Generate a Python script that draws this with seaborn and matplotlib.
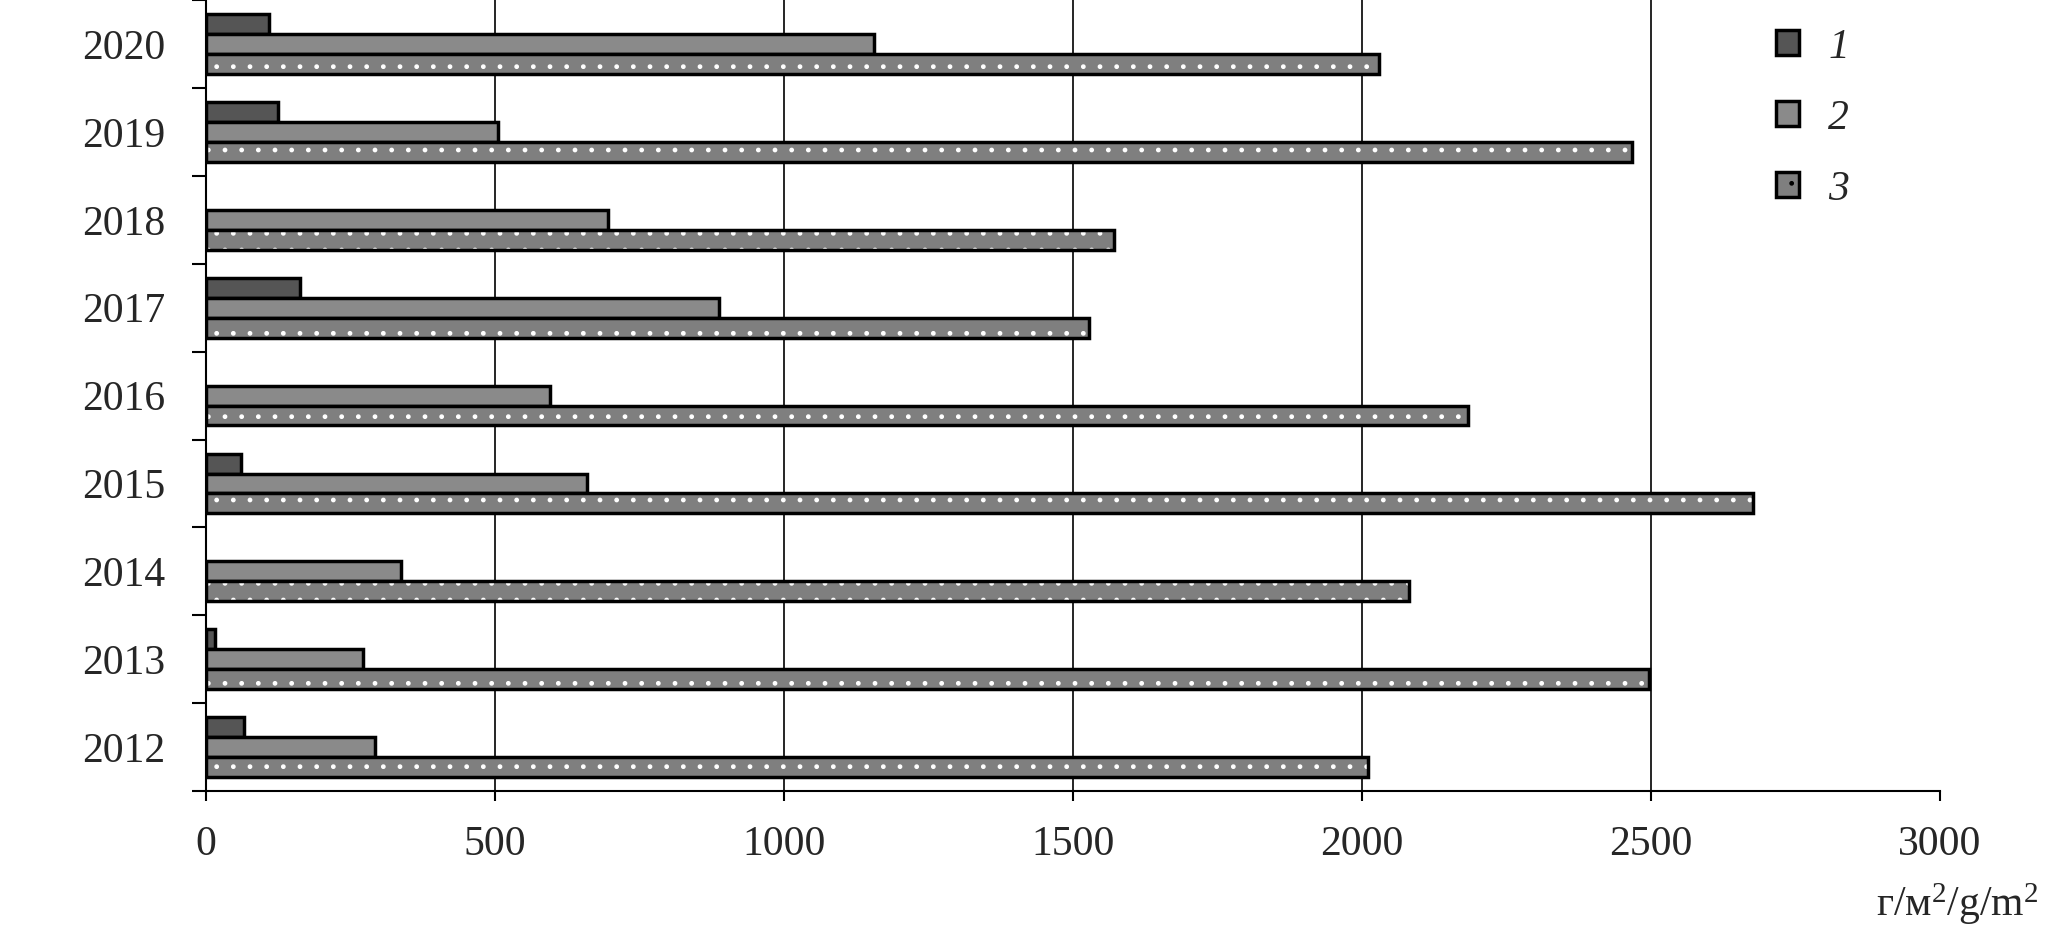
import matplotlib
matplotlib.use("Agg")
import matplotlib.pyplot as plt
import numpy as np
import pandas as pd
import seaborn as sns
from matplotlib.patches import Patch, Rectangle
from matplotlib.ticker import FixedLocator

years = ["2020", "2019", "2018", "2017", "2016", "2015", "2014", "2013", "2012"]
series_1 = [109, 125, 0, 163, 0, 61, 0, 16, 66]
series_2 = [1156, 506, 696, 887, 596, 660, 338, 272, 293]
series_3 = [2030, 2467, 1571, 1528, 2184, 2676, 2082, 2497, 2011]
series_names = ["1", "2", "3"]
x_ticks = [0, 500, 1000, 1500, 2000, 2500, 3000]
unit_label = "г/м$^2$/g/m$^2$"

colors = ["#555555", "#8a8a8a", "#7f7f7f"]
edge_width = 2.5
font_size = 30

frame = pd.DataFrame(
    {
        "year": years * 3,
        "value": series_1 + series_2 + series_3,
        "series": [s for s in series_names for _ in years],
    }
)

sns.set_style("white")
plt.rcParams["font.family"] = ["Liberation Serif", "DejaVu Serif"]
plt.rcParams["mathtext.fontset"] = "custom"
plt.rcParams["mathtext.rm"] = "Liberation Serif"
plt.rcParams["mathtext.it"] = "Liberation Serif:italic"
plt.rcParams["mathtext.default"] = "regular"
plt.rcParams["hatch.linewidth"] = 1.0

fig = plt.figure(figsize=(20.55, 9.33), dpi=100)
ax = fig.add_axes([0.1002, 0.152, 0.8438, 0.848])

sns.barplot(
    data=frame,
    x="value",
    y="year",
    hue="series",
    order=years,
    hue_order=series_names,
    palette=colors,
    orient="h",
    width=0.68,
    edgecolor="black",
    linewidth=edge_width,
    saturation=1,
    legend=False,
    ax=ax,
)

n = len(years)
bars = [p for p in ax.patches if isinstance(p, Rectangle)]
for bar in bars:
    # zero values leave no mark in the original
    if bar.get_width() == 0:
        bar.set_visible(False)

# dotted fill for the third series: white hatch, black outline drawn on top
for bar in bars[2 * n : 3 * n]:
    bar.set_hatch(".")
    bar.set_edgecolor("white")
    bar.set_linewidth(0)
    outline = Rectangle(
        (bar.get_x(), bar.get_y()),
        bar.get_width(),
        bar.get_height(),
        fill=False,
        edgecolor="black",
        linewidth=edge_width,
        zorder=bar.get_zorder() + 0.1,
    )
    ax.add_patch(outline)

ax.set_xlim(0, 3000)
ax.set_ylim(len(years) - 0.5, -0.5)
ax.set_xticks(x_ticks)
ax.set_xticklabels([str(t) for t in x_ticks])
ax.set_xlabel("")
ax.set_ylabel("")

ax.grid(axis="x", color="black", linewidth=1.2)
ax.xaxis.get_gridlines()[-1].set_visible(False)
ax.xaxis.get_gridlines()[0].set_visible(False)
ax.set_axisbelow(True)

for side in ("top", "right"):
    ax.spines[side].set_visible(False)
for side in ("left", "bottom"):
    ax.spines[side].set_color("black")
    ax.spines[side].set_linewidth(1.5)

ax.yaxis.set_minor_locator(FixedLocator(np.arange(-0.5, len(years), 1.0)))
ax.tick_params(axis="y", which="major", length=0, pad=29, labelsize=font_size)
ax.tick_params(axis="y", which="minor", length=10, width=1.5, color="black", left=True)
ax.tick_params(axis="x", which="major", length=7, width=1.5, color="black",
               bottom=True, pad=18, labelsize=font_size)

handles = []
for i, name in enumerate(series_names):
    handles.append(
        Patch(
            facecolor=colors[i],
            edgecolor="black",
            linewidth=edge_width,
            hatch="." if i == 2 else None,
        )
    )
ax.legend(
    handles,
    series_names,
    loc="upper left",
    bbox_to_anchor=(0.884, 1.012),
    frameon=False,
    handlelength=0.55,
    handleheight=0.55,
    handletextpad=0.7,
    labelspacing=0.78,
    prop={"size": font_size, "style": "italic"},
)

fig.text(0.992, 0.018, unit_label, ha="right", va="baseline", fontsize=font_size)

fig.savefig("out.png", dpi=100)
plt.close(fig)
